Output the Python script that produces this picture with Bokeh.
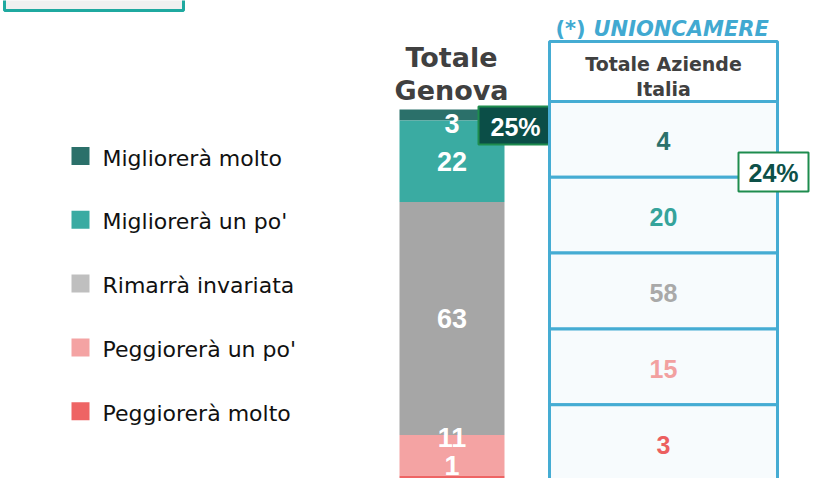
from bokeh.plotting import figure
from bokeh.models import Range1d, ColumnDataSource
from bokeh.core.properties import value
from bokeh.embed import file_html
from bokeh.resources import INLINE

# ---- data ----
categories = ["Migliorerà molto", "Migliorerà un po'", "Rimarrà invariata",
              "Peggiorerà un po'", "Peggiorerà molto"]
genova = [3, 22, 63, 11, 1]
italia = [4, 20, 58, 15, 3]
genova_title = ["Totale", "Genova"]
italia_title = ["Totale Aziende", "Italia"]
source_note = ["(*)", "UNIONCAMERE"]

# ---- styles ----
bar_colors = ["#2b706a", "#3aaba2", "#a6a6a6", "#f4a3a3", "#ee6464"]
legend_colors = ["#2b706a", "#3aaba2", "#bfbfbf", "#f4a3a3", "#ee6464"]
table_text_colors = ["#2c716b", "#35a39b", "#a9a9a9", "#f2a0a0", "#ec5f5f"]
label_offsets = [8, 0, 0, -18, -12]
blue = "#45acd3"

W, H = 836, 478
p = figure(width=W, height=H, output_backend="svg", toolbar_location=None,
           x_range=Range1d(0, W), y_range=Range1d(H, 0),
           min_border=0, outline_line_color=None)
p.axis.visible = False
p.grid.visible = False

# percent scale for the stacked bar: 100 -> y=109px, 3.7 px per unit
top_px, ppu = 109, 3.7
pct_end = 100 + top_px / ppu
pct_start = pct_end - H / ppu
p.extra_y_ranges = {"pct": Range1d(pct_start, pct_end)}

# top-left box
p.quad(left=[4], right=[183], top=[-10], bottom=[10], fill_color="#f0f0f0",
       line_color="#1fa9a0", line_width=3)

# legend
leg_y0, leg_dy = 155.5, 63.8
for i, (c, col) in enumerate(zip(categories, legend_colors)):
    y = leg_y0 + i * leg_dy
    p.rect(x=[80], y=[y], width=18, height=18, width_units="screen",
           height_units="screen", fill_color=col, line_color=None)
    p.text(x=[102], y=[y + 2], text=[c], text_font=value("DejaVu Sans"),
           text_font_size="22px", text_baseline="middle", text_align="left",
           text_color="#111111")

# stacked bar (top to bottom order in data)
tops, bottoms = [], []
acc = sum(genova)
for v in genova:
    tops.append(acc)
    acc -= v
    bottoms.append(acc)
src = ColumnDataSource(dict(
    x=[451.5] * len(genova), top=tops, bottom=bottoms, color=bar_colors,
    mid=[(t + b) / 2 for t, b in zip(tops, bottoms)],
    lab=[str(v) for v in genova], off=label_offsets))
p.vbar(x="x", width=105, top="top", bottom="bottom", fill_color="color",
       line_color=None, source=src, y_range_name="pct")
p.text(x="x", y="mid", text="lab", y_offset="off", source=src, y_range_name="pct",
       text_font=value("Liberation Sans"), text_font_style="bold",
       text_font_size="27px", text_color="white", text_align="center",
       text_baseline="middle")

# bar title
for i, t in enumerate(genova_title):
    p.text(x=[451], y=[57 + i * 33], text=[t], text_font=value("DejaVu Sans"),
           text_font_style="bold", text_font_size="27px", text_color="#404040",
           text_align="center", text_baseline="alphabetic")

# 25% box
p.quad(left=[478], right=[553], top=[106], bottom=[144], fill_color="#0b4e47",
       line_color="#1e8c4e", line_width=2)
p.text(x=[515], y=[126], text=[f"{genova[0] + genova[1]}%"],
       text_font=value("Liberation Sans"), text_font_style="bold",
       text_font_size="25px", text_color="white", text_align="center",
       text_baseline="middle")

# table
tl, tr = 549, 777
row_top, row_h = 101, 75.8
p.quad(left=[tl], right=[tr], top=[41], bottom=[row_top], fill_color="white",
       line_color=blue, line_width=3)
for i, v in enumerate(italia):
    t = row_top + i * row_h
    p.quad(left=[tl], right=[tr], top=[t], bottom=[t + row_h],
           fill_color="#f7fbfd", line_color=blue, line_width=3)
    p.text(x=[(tl + tr) / 2], y=[t + row_h / 2 + 2], text=[str(v)],
           text_font=value("Liberation Sans"), text_font_style="bold",
           text_font_size="25px", text_color=table_text_colors[i],
           text_align="center", text_baseline="middle")
for i, t in enumerate(italia_title):
    p.text(x=[663], y=[63 + i * 25], text=[t], text_font=value("DejaVu Sans"),
           text_font_style="bold", text_font_size="19px", text_color="#404040",
           text_align="center", text_baseline="alphabetic")

# source note
p.text(x=[555], y=[28], text=[source_note[0]], text_font=value("DejaVu Sans"),
       text_font_style="bold", text_font_size="21px", text_color="#41a9d1",
       text_align="left", text_baseline="alphabetic")
p.text(x=[593], y=[28], text=[source_note[1]], text_font=value("DejaVu Sans"),
       text_font_style="bold italic", text_font_size="21px", text_color="#41a9d1",
       text_align="left", text_baseline="alphabetic")

# 24% box
p.quad(left=[738], right=[808], top=[152], bottom=[191], fill_color="white",
       line_color="#1e8c4e", line_width=2)
p.text(x=[773], y=[172], text=[f"{italia[0] + italia[1]}%"],
       text_font=value("Liberation Sans"), text_font_style="bold",
       text_font_size="25px", text_color="#0d5048", text_align="center",
       text_baseline="middle")

open("out.html", "w").write(file_html(p, INLINE))
